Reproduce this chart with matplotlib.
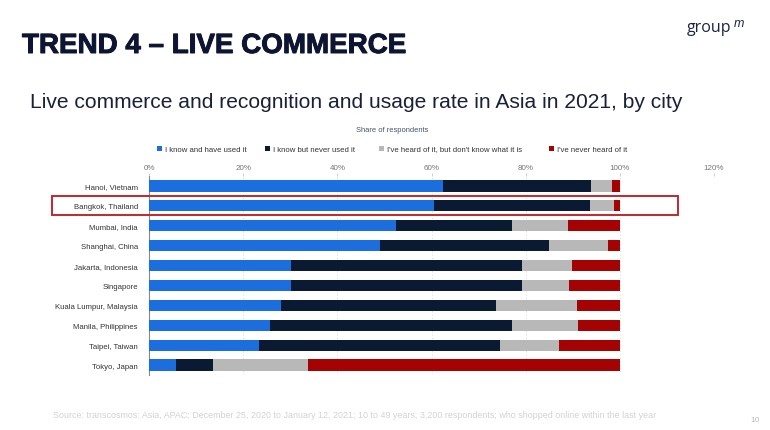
import matplotlib.pyplot as plt
import matplotlib.transforms as mtransforms
import matplotlib.patheffects as pe
from matplotlib.patches import Rectangle
import numpy as np

cities = [
    "Hanoi, Vietnam",
    "Bangkok, Thailand",
    "Mumbai, India",
    "Shanghai, China",
    "Jakarta, Indonesia",
    "Singapore",
    "Kuala Lumpur, Malaysia",
    "Manila, Philippines",
    "Taipei, Taiwan",
    "Tokyo, Japan",
]
used_it = [62.4, 60.5, 52.4, 49.0, 30.2, 30.2, 28.0, 25.7, 23.3, 5.7]
never_used = [31.4, 33.1, 24.7, 36.0, 49.1, 49.1, 45.6, 51.4, 51.3, 7.8]
heard_of = [4.6, 5.1, 11.9, 12.5, 10.6, 10.0, 17.2, 14.1, 12.4, 20.3]
never_heard = [1.6, 1.3, 11.0, 2.5, 10.1, 10.7, 9.2, 8.8, 13.0, 66.2]

series_labels = [
    "I know and have used it",
    "I know but never used it",
    "I've heard of it, but don't know what it is",
    "I've never heard of it",
]
series_colors = ["#1c6ddd", "#0b1a33", "#b8b8b8", "#a50303"]
x_ticks = [0, 20, 40, 60, 80, 100, 120]
highlight_city = "Bangkok, Thailand"

W, H = 770, 431
fig = plt.figure(figsize=(W / 100, H / 100), dpi=100)
fig.patch.set_facecolor("white")
plt.rcParams["font.family"] = ["Liberation Sans", "DejaVu Sans"]

# slide texts
fig.text(22 / W, 1 - 47 / H, "TREND 4 \u2013 LIVE COMMERCE", fontsize=20,
         fontweight="bold", color="#0d1533", va="center", ha="left",
         path_effects=[pe.withStroke(linewidth=0.7, foreground="#0d1533")])
fig.text(30 / W, 1 - 103 / H,
         "Live commerce and recognition and usage rate in Asia in 2021, by city",
         fontsize=15.1, color="#1a1f3a", va="center", ha="left")
fig.text(687 / W, 1 - 28 / H, "group", fontsize=11.5, color="#1b2444",
         va="center", ha="left", family=["Open Sans", "DejaVu Sans"])
fig.text(734 / W, 1 - 24 / H, "m", fontsize=9, color="#1b2444",
         va="center", ha="left", style="italic")
fig.text(392 / W, 1 - 131 / H, "Share of respondents", fontsize=5.4,
         color="#44546a", ha="center", va="center")
fig.text(53 / W, 1 - 416 / H,
         "Source: transcosmos: Asia, APAC; December 25, 2020 to January 12, 2021; "
         "10 to 49 years; 3,200 respondents; who shopped online within the last year",
         fontsize=6.4, color="#d2d2d2", ha="left", va="center")
fig.text(750 / W, 1 - 421 / H, "10", fontsize=6.0, color="#bdbdbd",
         ha="left", va="center")

# chart
ax_left, ax_right, ax_top, ax_bottom = 149, 714, 177, 376
ax = fig.add_axes([ax_left / W, 1 - ax_bottom / H,
                   (ax_right - ax_left) / W, (ax_bottom - ax_top) / H])

y = np.arange(len(cities))
left = np.zeros(len(cities))
for vals, lab, col in zip([used_it, never_used, heard_of, never_heard],
                          series_labels, series_colors):
    ax.barh(y, vals, left=left, height=0.56, color=col, label=lab, zorder=3)
    left = left + np.array(vals)

ax.set_xlim(0, 120)
ax.set_ylim(len(cities) - 0.5, -0.5)
ax.set_yticks(y)
ax.set_yticklabels(cities, fontsize=5.6, color="#333333")
ax.set_xticks(x_ticks)
ax.set_xticklabels([f"{t}%" for t in x_ticks], fontsize=5.8, color="#777777")
ax.xaxis.tick_top()
ax.tick_params(axis="x", length=2, width=0.5, color="#bbbbbb", pad=1.5)
ax.tick_params(axis="y", length=0, pad=8)
ax.grid(axis="x", linestyle=(0, (1, 3)), color="#cccccc", linewidth=0.6, zorder=0)
for s in ["top", "right", "bottom"]:
    ax.spines[s].set_visible(False)
ax.spines["left"].set_color("#888888")
ax.spines["left"].set_linewidth(0.8)

# legend row: small squares and labels on one baseline
legend_x = [157, 265, 379, 549]
legend_y = 149
for lab, col, lx in zip(series_labels, series_colors, legend_x):
    fig.patches.append(Rectangle((lx / W, 1 - (legend_y + 2.5) / H), 5 / W, 5 / H,
                                 transform=fig.transFigure, facecolor=col,
                                 edgecolor="none"))
    fig.text((lx + 8) / W, 1 - legend_y / H, lab, fontsize=5.6, color="#333333",
             ha="left", va="center_baseline")

# red box around the highlighted row
hi = cities.index(highlight_city)
trans = mtransforms.blended_transform_factory(fig.transFigure, ax.transData)
ax.add_patch(Rectangle((52 / W, hi - 0.48), (678 - 52) / W, 0.96,
                       transform=trans, fill=False, edgecolor="#c4262c",
                       linewidth=1.4, clip_on=False, zorder=5))

fig.savefig("out.png", dpi=100)
